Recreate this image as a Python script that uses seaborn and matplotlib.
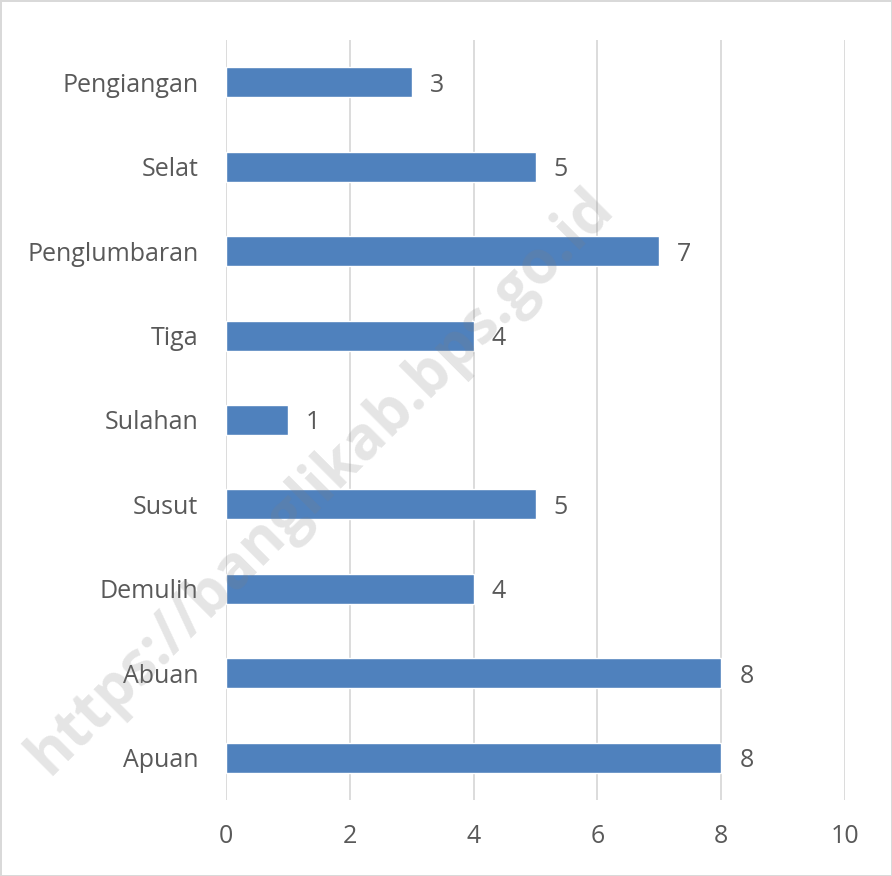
import matplotlib
matplotlib.use("Agg")
import matplotlib.pyplot as plt
import seaborn as sns

# data
categories = ["Pengiangan", "Selat", "Penglumbaran", "Tiga", "Sulahan",
              "Susut", "Demulih", "Abuan", "Apuan"]
values = [3, 5, 7, 4, 1, 5, 4, 8, 8]
x_ticks = [0, 2, 4, 6, 8, 10]

sns.set_theme(style="white")
plt.rcParams['font.family'] = ['Open Sans', 'DejaVu Sans']

text_color = "#595959"
grid_color = "#D9D9D9"
bar_color = "#4F81BD"

fig = plt.figure(figsize=(8.92, 8.76), dpi=100)
fig.patch.set_edgecolor(grid_color)
fig.patch.set_linewidth(2)
ax = fig.add_axes([0.2534, 0.0868, 0.6939, 0.8675])

sns.barplot(x=values, y=categories, color=bar_color, width=0.355,
            saturation=1, ax=ax, zorder=3)

ax.set_xlim(0, 10)
ax.set_xticks(x_ticks)
ax.grid(axis="x", color=grid_color, linewidth=1.3, zorder=0)
ax.grid(axis="y", visible=False)
for s in ax.spines.values():
    s.set_visible(False)
ax.tick_params(axis="both", length=0, labelsize=18, colors=text_color)
ax.tick_params(axis="y", pad=20)
ax.tick_params(axis="x", pad=17)
ax.set_xlabel("")
ax.set_ylabel("")

# value labels next to each bar
for txt in ax.bar_label(ax.containers[0], padding=13, fontsize=18, color=text_color):
    txt.set_verticalalignment("center_baseline")

# watermark
fig.text(0.36, 0.45, "https://banglikab.bps.go.id", rotation=45,
         fontsize=43, fontweight="bold", color="#7F7F7F", alpha=0.2,
         ha="center", va="center", zorder=10)

fig.savefig("out.png", dpi=100)
